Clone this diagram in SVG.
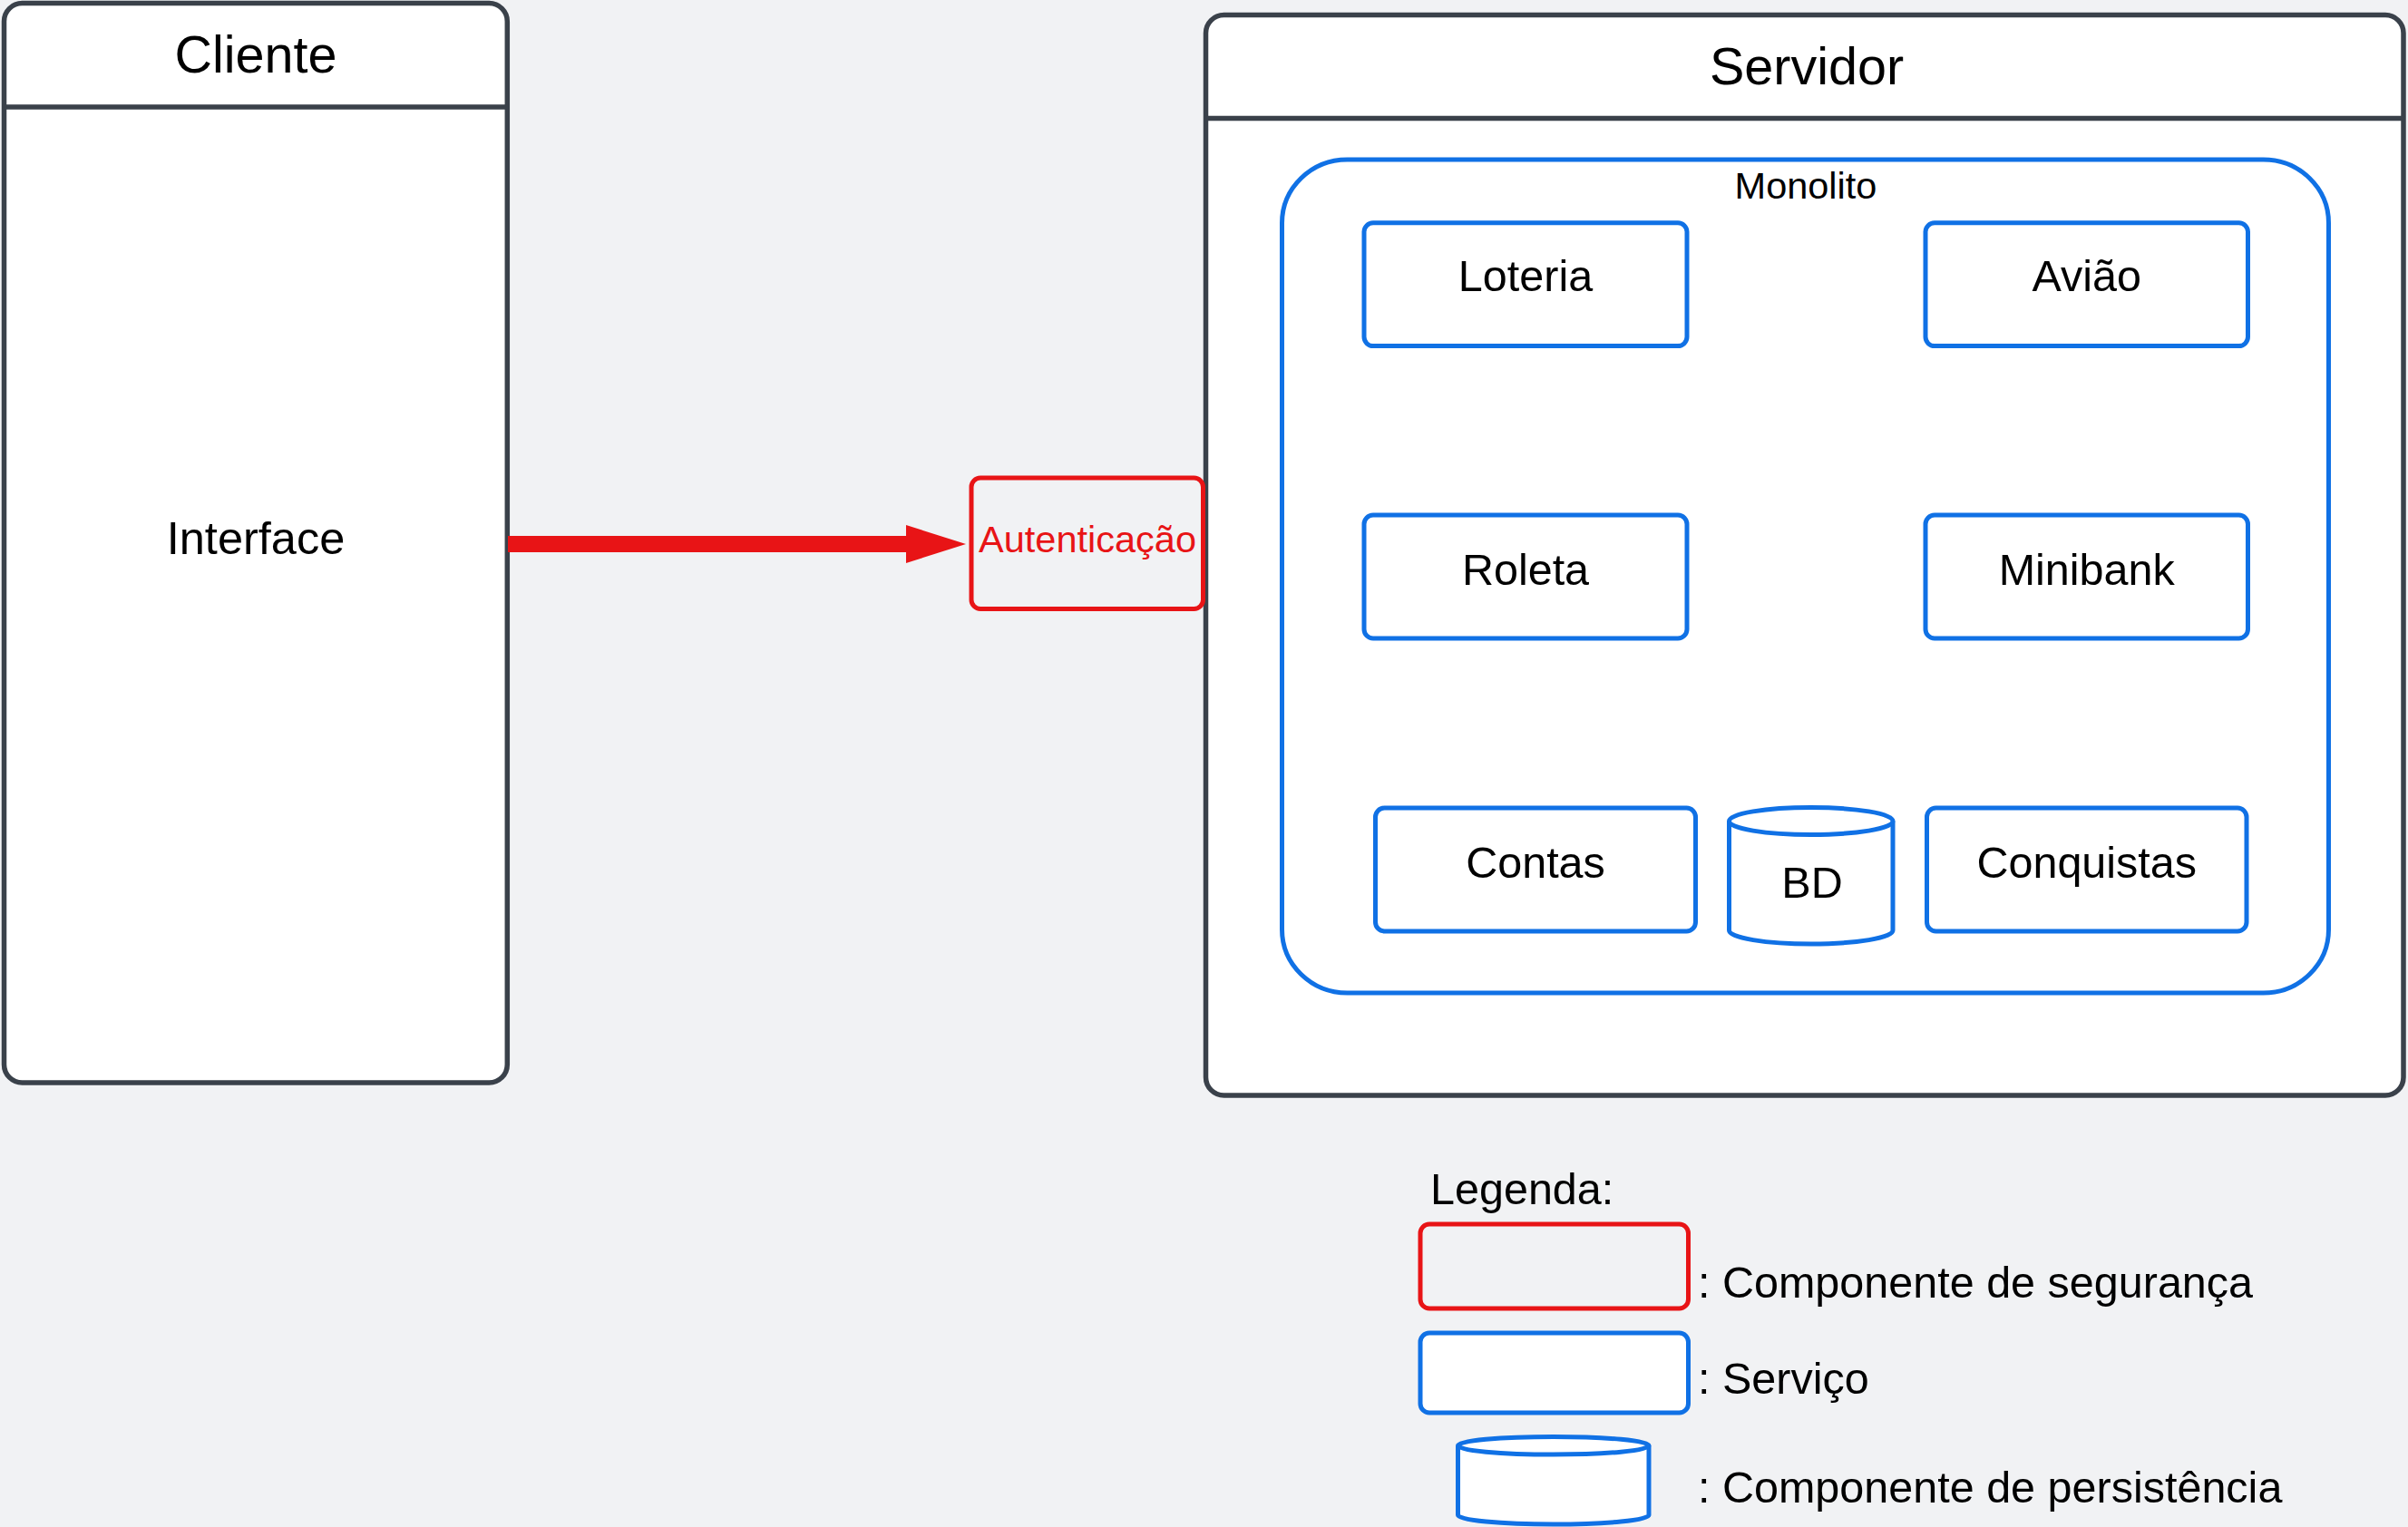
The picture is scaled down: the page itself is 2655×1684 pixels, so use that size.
<svg xmlns="http://www.w3.org/2000/svg" width="2655" height="1684" viewBox="0 0 2655 1684">
<style>
.bg{fill:#f1f2f4}
.frame{fill:#ffffff;stroke:#3a414a;stroke-width:5.5}
.hline{stroke:#3a414a;stroke-width:5.5}
.svc{fill:#ffffff;stroke:#1071e5;stroke-width:5}
.mono{fill:#ffffff;stroke:#1071e5;stroke-width:5}
.sec{fill:none;stroke:#e81416;stroke-width:5}
.t{font-family:"Liberation Sans",Arial,sans-serif;fill:#000000}
.c{text-anchor:middle}
.red{fill:#e81416}
.s{font-size:48.5px}
</style>
<defs>
<marker id="head" viewBox="0 0 66 42" refX="1" refY="21" markerWidth="66" markerHeight="42" markerUnits="userSpaceOnUse" orient="auto">
<path d="M0,0 L66,21 L0,42 Z" fill="#e81416"/>
</marker>
</defs>
<rect class="bg" x="0" y="0" width="2655" height="1684"/>

<g id="cliente">
<rect class="frame" x="4.5" y="3.5" width="554.8" height="1190.5" rx="20" ry="20"/>
<line class="hline" x1="4.5" y1="118" x2="559.3" y2="118"/>
<text class="t c" x="282" y="80" font-size="57.5">Cliente</text>
</g>
<g id="interface">
<text class="t c" x="282" y="611" font-size="50.5">Interface</text>
</g>

<g id="servidor">
<rect class="frame" x="1329.5" y="16.5" width="1320.5" height="1191.5" rx="20" ry="20"/>
<line class="hline" x1="1329.5" y1="130.5" x2="2650" y2="130.5"/>
<text class="t c" x="1992" y="93" font-size="57.5">Servidor</text>
</g>

<g id="monolito">
<rect class="mono" x="1413.5" y="176" width="1154" height="919" rx="72" ry="70"/>
<text class="t c" x="1991" y="219" font-size="41.5">Monolito</text>
</g>

<g id="loteria">
<rect class="svc" x="1504" y="245.8" width="356" height="135.8" rx="10"/>
<text class="t c s" x="1682" y="320.7">Loteria</text>
</g>
<g id="aviao">
<rect class="svc" x="2123" y="245.8" width="355.5" height="135.8" rx="10"/>
<text class="t c s" x="2300.75" y="320.7">Avião</text>
</g>
<g id="roleta">
<rect class="svc" x="1504" y="568" width="356" height="136" rx="10"/>
<text class="t c s" x="1682" y="645">Roleta</text>
</g>
<g id="minibank">
<rect class="svc" x="2123" y="568" width="355.5" height="136" rx="10"/>
<text class="t c s" x="2300.75" y="645">Minibank</text>
</g>
<g id="contas">
<rect class="svc" x="1516.5" y="891" width="353" height="136" rx="10"/>
<text class="t c s" x="1693" y="967.7">Contas</text>
</g>
<g id="bd">
<path class="svc" d="M1906.5,905.5 L1906.5,1026 A90.25,15 0 0 0 2087,1026 L2087,905.5"/>
<ellipse class="svc" cx="1996.75" cy="905.5" rx="90.25" ry="15"/>
<text class="t c s" x="1998" y="990">BD</text>
</g>
<g id="conquistas">
<rect class="svc" x="2124.5" y="891" width="352.5" height="136" rx="10"/>
<text class="t c s" x="2300.75" y="967.7">Conquistas</text>
</g>

<g id="autenticacao">
<rect class="sec" x="1071" y="527" width="255.5" height="144.5" rx="10"/>
<text class="t c red" x="1199" y="609.3" font-size="41.5">Autenticação</text>
</g>

<g id="connectors">
<line x1="560" y1="600" x2="1000" y2="600" stroke="#e81416" stroke-width="18" marker-end="url(#head)"/>
</g>

<g id="legenda">
<text class="t s" x="1577" y="1328.3">Legenda:</text>
<rect class="sec" x="1566" y="1350" width="295.5" height="93" rx="10"/>
<text class="t s" x="1872" y="1430.7">: Componente de segurança</text>
<rect class="svc" x="1566" y="1470" width="295.5" height="88" rx="10"/>
<text class="t s" x="1872" y="1536.7">: Serviço</text>
<path class="svc" d="M1607.5,1594.25 L1607.5,1671 A105.25,10 0 0 0 1818,1671 L1818,1594.25"/>
<ellipse class="svc" cx="1712.75" cy="1594.25" rx="105.25" ry="9.75"/>
<text class="t s" x="1872" y="1656.7">: Componente de persistência</text>
</g>
</svg>
